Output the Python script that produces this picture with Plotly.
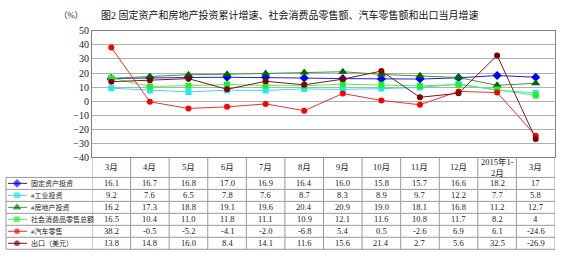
import plotly.graph_objects as go

W, H = 563, 261

categories = ["3月", "4月", "5月", "6月", "7月", "8月", "9月", "10月", "11月", "12月", "2015年1-<br>2月", "3月"]
series_names = ["固定资产投资", "#工业投资", "#房地产投资", "社会消费品零售总额", "#汽车零售", "出口（美元）"]
fixed_asset = [16.1, 16.7, 16.8, 17.0, 16.9, 16.4, 16.0, 15.8, 15.7, 16.6, 18.2, 17]
industrial = [9.2, 7.6, 6.5, 7.8, 7.6, 8.7, 8.3, 8.9, 9.7, 12.2, 7.7, 5.8]
real_estate = [16.2, 17.3, 18.8, 19.1, 19.6, 20.4, 20.9, 19.0, 18.1, 16.8, 11.2, 12.7]
retail = [16.5, 10.4, 11.0, 11.8, 11.1, 10.9, 12.1, 11.6, 10.8, 11.7, 8.2, 4]
auto = [38.2, -0.5, -5.2, -4.1, -2.0, -6.8, 5.4, 0.5, -2.6, 6.9, 6.1, -24.6]
export = [13.8, 14.8, 16.0, 8.4, 14.1, 11.6, 15.6, 21.4, 2.7, 5.6, 32.5, -26.9]
y_ticks = [50, 40, 30, 20, 10, 0, -10, -20, -30, -40]

all_series = [fixed_asset, industrial, real_estate, retail, auto, export]
line_colors = ["#2020E0", "#40D8E8", "#3A9A3A", "#50F050", "#F03030", "#7A1818"]
marker_colors = ["#0000FF", "#20E8F0", "#006600", "#20F020", "#FF0000", "#800000"]
symbols = ["diamond", "square", "triangle-up", "square", "circle", "circle"]
msizes = [7, 6, 8, 6, 6, 6]

FONT = "Liberation Serif, Noto Sans CJK SC"

# pixel layout
PL, PR, PT, PB = 92, 555, 27, 159
TL = 6
HDR_BOT = 180
ROW_H = 12.5


def py(y):
    return 1 - y / H


def px(x):
    return x / W


xs = list(range(len(categories)))
fig = go.Figure()
for i, s in enumerate(all_series):
    fig.add_trace(go.Scatter(
        x=xs, y=s, mode="lines+markers", name=series_names[i],
        line=dict(color=line_colors[i], width=1),
        marker=dict(color=marker_colors[i], symbol=symbols[i], size=msizes[i]),
        showlegend=False, hoverinfo="skip"))

# legend symbols in the table (pixel axes)
for i in range(len(series_names)):
    yc = HDR_BOT + ROW_H * (i + 0.5)
    fig.add_trace(go.Scatter(
        x=[8, 17, 27], y=[yc, yc, yc], mode="lines+markers",
        xaxis="x2", yaxis="y2",
        line=dict(color=line_colors[i], width=1),
        marker=dict(color=marker_colors[i], symbol=symbols[i], size=[0, msizes[i] - 1, 0]),
        showlegend=False, hoverinfo="skip"))

shapes = []
annotations = []
grid_col = "#999999"
n_rows = len(series_names)
for r in range(n_rows + 1):
    yv = HDR_BOT + ROW_H * r
    shapes.append(dict(type="line", xref="paper", yref="paper",
                       x0=px(TL), x1=px(PR), y0=py(yv), y1=py(yv),
                       line=dict(color=grid_col, width=1)))
for c in range(len(categories) + 1):
    shapes.append(dict(type="line", xref="x", yref="paper",
                       x0=c - 0.5, x1=c - 0.5, y0=py(PB), y1=py(HDR_BOT + ROW_H * n_rows),
                       line=dict(color=grid_col, width=1)))
shapes.append(dict(type="line", xref="paper", yref="paper",
                   x0=px(TL), x1=px(TL), y0=py(HDR_BOT), y1=py(HDR_BOT + ROW_H * n_rows),
                   line=dict(color=grid_col, width=1)))

for c, lab in enumerate(categories):
    annotations.append(dict(x=c, y=py((PB + HDR_BOT) / 2), xref="x", yref="paper",
                            text=lab, showarrow=False, font=dict(size=8.5, family=FONT, color="#222"),
                            xanchor="center", yanchor="middle"))
for r, s in enumerate(all_series):
    yc = py(HDR_BOT + ROW_H * (r + 0.5))
    annotations.append(dict(x=px(29), y=yc, xref="paper", yref="paper", text=series_names[r],
                            showarrow=False, font=dict(size=7, family=FONT, color="#222"),
                            xanchor="left", yanchor="middle"))
    for c, v in enumerate(s):
        annotations.append(dict(x=c, y=yc, xref="x", yref="paper", text=str(v),
                                showarrow=False, font=dict(size=8.5, family=FONT, color="#222"),
                                xanchor="center", yanchor="middle"))

annotations.append(dict(x=px(85), y=py(10), xref="paper", yref="paper", text="（%）",
                        showarrow=False, font=dict(size=8.5, family=FONT, color="#222"),
                        xanchor="right", yanchor="middle"))
annotations.append(dict(x=px(290), y=py(10), xref="paper", yref="paper",
                        text="图2 固定资产和房地产投资累计增速、社会消费品零售额、汽车零售额和出口当月增速",
                        showarrow=False, font=dict(size=10, family=FONT, color="#111"),
                        xanchor="center", yanchor="middle"))

fig.update_layout(
    width=W, height=H, margin=dict(l=0, r=0, t=0, b=0),
    paper_bgcolor="white", plot_bgcolor="rgba(0,0,0,0)",
    xaxis=dict(domain=[px(PL), px(PR)], range=[-0.5, len(categories) - 0.5],
               showticklabels=False, showgrid=False, zeroline=False,
               showline=True, linecolor="#808080", mirror=True, ticks=""),
    yaxis=dict(domain=[py(PB), py(PT)], range=[-40, 50], tickvals=y_ticks,
               showgrid=True, gridcolor="#B0B0B0", gridwidth=1, zeroline=False,
               showline=True, linecolor="#808080", mirror=True,
               tickfont=dict(size=10, family=FONT, color="#222"), ticks=""),
    xaxis2=dict(domain=[0, 1], range=[0, W], visible=False, anchor="y2"),
    yaxis2=dict(domain=[0, 1], range=[H, 0], visible=False, anchor="x2"),
    shapes=shapes, annotations=annotations,
)

fig.write_html("out.html")
